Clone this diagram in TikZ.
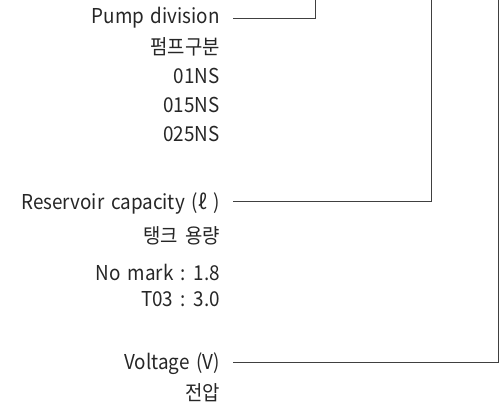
\documentclass[tikz,border=0pt]{standalone}
\usepackage{fontspec}
\setmainfont{Noto Sans CJK KR}[FakeStretch=0.92,WordSpace=1.6]
\begin{document}
\begin{tikzpicture}[x=1pt,y=-1pt,
  lbl/.style={anchor=east,inner sep=0pt,font=\fontsize{20.5}{20.5}\selectfont,text=black!85},
  conn/.style={draw=black!75,line width=0.9pt}]
\useasboundingbox (0,0) rectangle (499,408);
\node[lbl] (pump) at (220,18) {Pump division};
\node[lbl] (pumpk) at (220,47) {펌프구분};
\node[lbl] (n1) at (220,76) {01NS};
\node[lbl] (n2) at (220,105) {015NS};
\node[lbl] (n3) at (220,134) {025NS};
\node[lbl] (res) at (220,204) {Reservoir capacity (ℓ )};
\node[lbl] (resk) at (220,236) {탱크 용량};
\node[lbl] (r1) at (220,272) {No mark : 1.8};
\node[lbl] (r2) at (220,299) {T03 : 3.0};
\node[lbl] (volt) at (220,364) {Voltage (V)};
\node[lbl] (voltk) at (220,393) {전압};
\coordinate (t1) at (315,0);
\coordinate (t2) at (431,0);
\coordinate (t3) at (498,0);
\draw[conn] ([xshift=13pt]pump.east) -- (315,18) -- (t1);
\draw[conn] ([xshift=13pt]res.east |- 0,201) -- (431,201) -- (t2);
\draw[conn] ([xshift=13pt]volt.east |- 0,362) -- (498,362) -- (t3);
\end{tikzpicture}
\end{document}
